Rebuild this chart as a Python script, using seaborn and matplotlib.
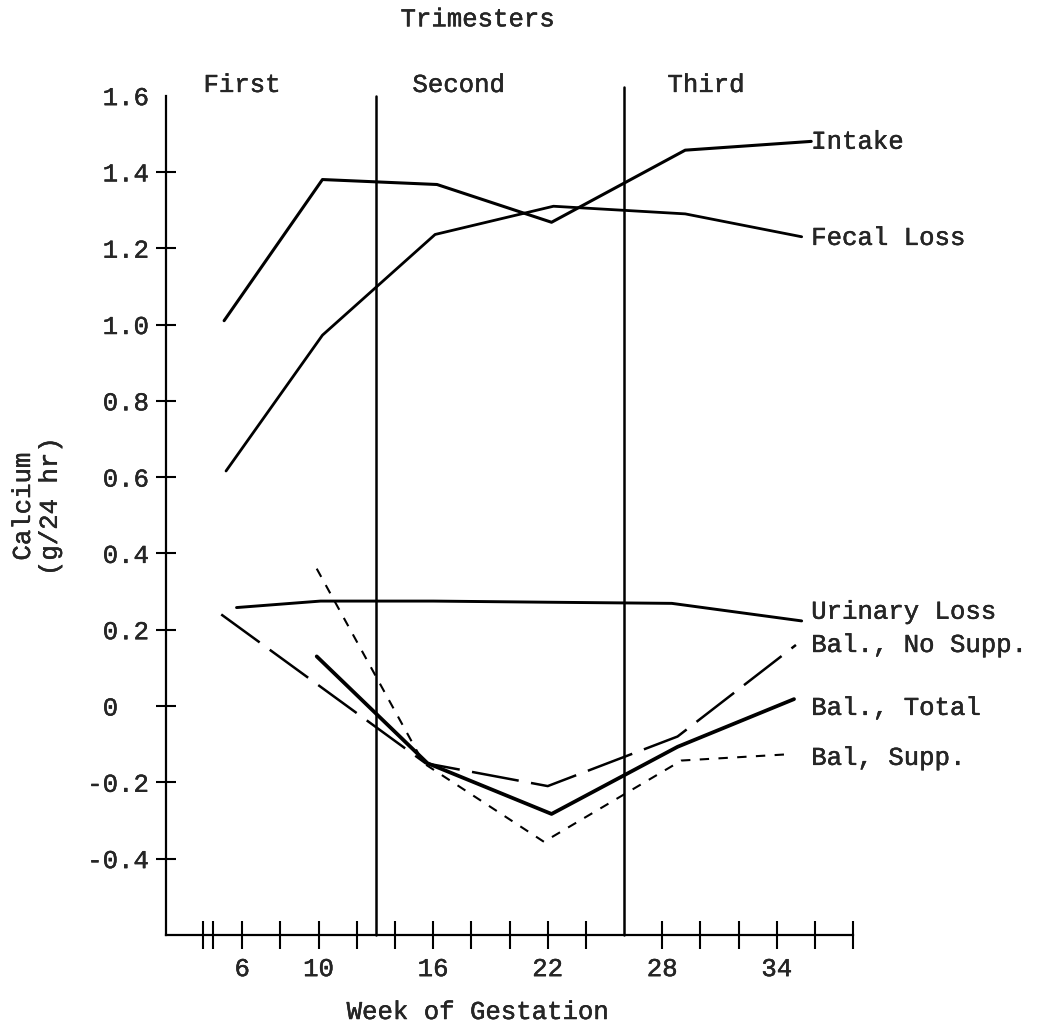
import numpy as np
import pandas as pd
import matplotlib
matplotlib.use("Agg")
import matplotlib.pyplot as plt
import matplotlib.patheffects as pe
import seaborn as sns

# typewriter look
sns.set_style("white")
plt.rcParams['font.family'] = ['Liberation Mono', 'DejaVu Sans Mono']
plt.rcParams['font.size'] = 18.5

# data
intake_wk = [5.05, 10.2, 16.2, 22.2, 29.2, 35.8]
intake = [1.01, 1.38, 1.367, 1.268, 1.457, 1.48]

fecal_wk = [5.15, 10.2, 16.1, 22.3, 29.2, 35.3]
fecal = [0.616, 0.972, 1.236, 1.31, 1.29, 1.23]

urinary_wk = [5.7, 10.1, 16.0, 22.0, 28.5, 35.3]
urinary = [0.258, 0.275, 0.275, 0.272, 0.269, 0.223]

bal_nosupp_wk = [4.9, 15.6, 22.0, 28.8, 35.0]
bal_nosupp = [0.24, -0.15, -0.21, -0.08, 0.16]

bal_total_wk = [9.9, 15.7, 22.2, 28.8, 34.9]
bal_total = [0.13, -0.15, -0.283, -0.107, 0.018]

bal_supp_wk = [9.9, 15.5, 21.8, 29.0, 34.8]
bal_supp = [0.36, -0.15, -0.356, -0.143, -0.126]

series_names = ["Intake", "Fecal Loss", "Urinary Loss",
                "Bal., No Supp.", "Bal., Total", "Bal, Supp."]
label_y = [1.479, 1.227, 0.247, 0.16, -0.005, -0.136]
label_x = 35.8

trimester_bounds = [13, 26]
trimester_names = ["First", "Second", "Third"]
trimester_x = [6.0, 17.35, 30.3]

xtick_pos = [6, 8, 10, 12, 14, 16, 18, 20, 22, 24, 28, 30, 32, 34, 36, 38]
xtick_lab = ["6", "", "10", "", "", "16", "", "", "22", "", "28", "", "", "34", "", ""]
ytick_pos = [-0.4, -0.2, 0, 0.2, 0.4, 0.6, 0.8, 1.0, 1.2, 1.4, 1.6]
ytick_lab = ["-0.4", "-0.2", "0  ", "0.2", "0.4", "0.6", "0.8", "1.0", "1.2", "1.4", "1.6"]

# a touch heavier than the plain font, like typed text
ink = [pe.withStroke(linewidth=0.3, foreground="black")]

# -----------------------------------------------------
fig = plt.figure(figsize=(10.4, 10.27), dpi=100)
ax = fig.add_axes([0.1595, 0.0897, 0.6609, 0.8172])

styles = [
    (intake_wk, intake, dict(lw=2.2, linestyle="-")),
    (fecal_wk, fecal, dict(lw=2.0, linestyle="-")),
    (urinary_wk, urinary, dict(lw=2.1, linestyle="-")),
    (bal_nosupp_wk, bal_nosupp, dict(lw=1.8, linestyle=(0, (19, 5)))),
    (bal_total_wk, bal_total, dict(lw=2.7, linestyle="-")),
    (bal_supp_wk, bal_supp, dict(lw=1.5, linestyle=(0, (4.5, 4.5)))),
]
for wk, val, kw in styles:
    sns.lineplot(x=wk, y=val, ax=ax, color="black", sort=False,
                 estimator=None, **kw)

for name, ly in zip(series_names, label_y):
    ax.text(label_x, ly, name, ha="left", va="center", clip_on=False,
            path_effects=ink)

# trimester boundaries
ax.axvline(trimester_bounds[0], ymin=0, ymax=1.0, color="black", lw=1.8, clip_on=False)
ax.axvline(trimester_bounds[1], ymin=0, ymax=1.01, color="black", lw=1.8, clip_on=False)
for name, tx in zip(trimester_names, trimester_x):
    ax.text(tx, 1.628, name, ha="center", va="center", clip_on=False,
            path_effects=ink)
ax.text(18.35, 1.80, "Trimesters", ha="center", va="center", clip_on=False,
        path_effects=ink)

ax.set_xlim(2, 38)
ax.set_ylim(-0.6, 1.6)
ax.set_xticks(xtick_pos)
ax.set_xticklabels(xtick_lab)
ax.set_xticks([3.95, 4.45], minor=True)
ax.set_yticks(ytick_pos)
ax.set_yticklabels(ytick_lab)
ax.tick_params(axis="x", which="both", bottom=True, direction="inout", length=20,
               width=1.5, color="black", pad=6, labelsize=18.5)
ax.tick_params(axis="y", which="major", left=True, direction="inout", length=14,
               width=1.5, color="black", pad=5, labelsize=18.5)
ax.yaxis.get_major_ticks()[-1].tick1line.set_visible(False)
for lab in ax.get_xticklabels() + ax.get_yticklabels():
    lab.set_path_effects(ink)

for s in ["top", "right"]:
    ax.spines[s].set_visible(False)
for s in ["left", "bottom"]:
    ax.spines[s].set_linewidth(1.6)
    ax.spines[s].set_color("black")
ax.set_xlabel("")
ax.set_ylabel("")

fig.text(0.035, 0.507, "Calcium\n(g/24 hr)", rotation=90, ha="center",
         va="center", linespacing=1.15, multialignment="center", path_effects=ink)
fig.text(0.46, 0.0146, "Week of Gestation", ha="center", va="center",
         path_effects=ink)

plt.savefig("out.png", dpi=100)
